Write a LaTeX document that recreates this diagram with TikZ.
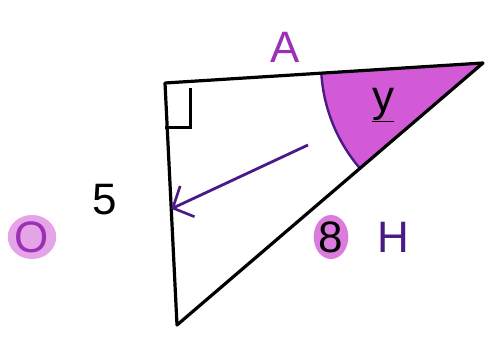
\documentclass[tikz,border=0pt]{standalone}
\usepackage{fontspec}
\setmainfont{Liberation Sans}
\usetikzlibrary{arrows.meta, positioning, calc, shapes.geometric}
\definecolor{marker}{HTML}{D25AD6}
\definecolor{ink}{HTML}{4A1A86}
\definecolor{pen}{HTML}{9B2FB5}

\begin{document}
\begin{tikzpicture}[
    x=1pt, y=-1pt,
    side/.style={draw=black, line width=3.2pt, line join=round, line cap=round},
    rightmark/.style={draw=black, line width=3pt},
    label/.style={font=\fontsize{44}{44}\selectfont, inner sep=0pt},
    blob/.style={label, fill=marker!80, ellipse, inner sep=0pt},
    arrow/.style={-{Straight Barb[length=16pt, width=34pt, line width=2.6pt]}, ink, line width=2.8pt}
]
\useasboundingbox (0,0) rectangle (490,339);

% Triangle corners
\coordinate (top) at (165,83);
\coordinate (right) at (483,63);
\coordinate (bottom) at (177,325);

% Shaded angle at the right corner
\begin{scope}
    \clip (top) -- (right) -- (bottom) -- cycle;
    \fill[marker] (right) circle[radius=162];
    \draw[ink, line width=2.4pt] (right) circle[radius=162];
\end{scope}

% Sides
\draw[side] (top) -- (right) -- (bottom) -- cycle;

% Right angle mark
\draw[rightmark] ($(top)+(0,45)$) -- ++(25,0) -- ++(0,-40);

% Arrow to the side
\coordinate (start) at (308,145);
\coordinate (foot) at ($(top)!0.52!(bottom)$);
\draw[arrow] (start) -- (foot);

% Labels
\node[label, text=pen] (adj) at (285,47) {A};
\node[label, text=black] (angle) at (383,105) {\underline{y}};
\node[label] (five) at (105,200) {5};
\node[blob, fill=marker!55, text=pen] (opp) at (32,237) {O};
\node[blob] (eight) at (331,237) {8};
\node[label, text=ink] (hyp) at (393,237) {H};

\end{tikzpicture}
\end{document}
